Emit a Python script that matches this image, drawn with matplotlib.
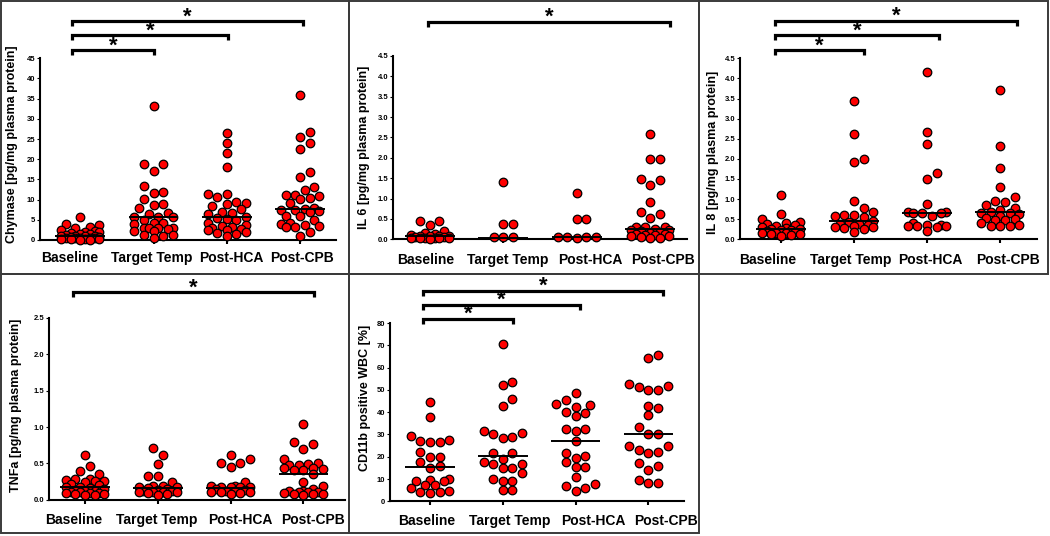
import numpy as np
import matplotlib.pyplot as plt
from matplotlib.patches import Rectangle
from matplotlib.transforms import blended_transform_factory

plt.rcParams['font.family'] = ['Liberation Sans', 'DejaVu Sans']
plt.rcParams['font.weight'] = 'bold'

W, H = 1050, 536

groups = ["Baseline", "Target Temp", "Post-HCA", "Post-CPB"]

# values, one list per time point
chymase = [
    [5.7, 3.9, 3.7, 3.2, 3.0, 2.6, 2.2, 2.0, 1.9, 1.7, 1.5, 1.4, 1.2, 1.1, 1.0,
     1.0, 0.9, 0.8, 0.7, 0.6, 0.6, 0.5, 0.5, 0.4, 0.3, 0.3, 0.2, 0.2, 0.1, 0.1],
    [33.3, 18.8, 18.7, 17.2, 13.4, 11.8, 11.6, 10.1, 8.9, 8.7, 8.0, 6.6, 6.5, 5.8,
     5.7, 5.7, 5.0, 4.3, 4.1, 4.0, 3.0, 3.0, 3.0, 3.0, 2.8, 2.3, 2.2, 1.3, 1.2, 1.1, 0.4],
    [26.4, 23.9, 21.5, 18.1, 11.5, 11.3, 10.6, 9.4, 9.2, 9.0, 8.4, 7.8, 6.9, 6.6,
     6.5, 5.8, 5.5, 5.2, 5.0, 4.3, 3.8, 3.5, 3.2, 3.0, 2.8, 2.5, 2.4, 2.1, 1.8, 1.6, 0.9],
    [36.0, 26.7, 25.4, 24.1, 22.6, 16.8, 15.7, 13.1, 12.4, 11.2, 11.2, 10.9, 10.4,
     10.1, 9.2, 7.9, 7.7, 7.4, 7.4, 7.3, 7.0, 6.0, 6.0, 5.0, 4.3, 4.0, 3.6, 3.5,
     3.3, 3.1, 2.1, 1.1],
]
chymase_medians = [1.0, 5.6, 5.8, 7.7]

il6 = [
    [0.46, 0.44, 0.35, 0.21, 0.15, 0.12, 0.10, 0.09, 0.08, 0.08, 0.07, 0.06, 0.05,
     0.04, 0.04, 0.03, 0.03, 0.02, 0.02, 0.01],
    [1.40, 0.38, 0.38, 0.06, 0.06, 0.06],
    [1.14, 0.49, 0.49, 0.06, 0.06, 0.05, 0.06, 0.02],
    [2.59, 1.96, 1.96, 1.47, 1.45, 1.34, 0.92, 0.66, 0.61, 0.52, 0.30, 0.30, 0.30,
     0.25, 0.22, 0.22, 0.20, 0.18, 0.15, 0.14, 0.12, 0.10, 0.10, 0.08, 0.07, 0.05,
     0.04, 0.02],
]
il6_medians = [0.08, 0.04, 0.05, 0.25]

il8 = [
    [1.10, 0.62, 0.50, 0.42, 0.41, 0.38, 0.36, 0.34, 0.30, 0.27, 0.25, 0.25, 0.23,
     0.23, 0.20, 0.17, 0.15, 0.15, 0.15, 0.13, 0.12, 0.11, 0.07],
    [3.45, 2.62, 1.99, 1.92, 0.96, 0.79, 0.67, 0.60, 0.60, 0.58, 0.56, 0.45, 0.44,
     0.39, 0.39, 0.36, 0.34, 0.30, 0.30, 0.27, 0.25, 0.17],
    [4.15, 2.67, 2.37, 1.64, 1.50, 0.88, 0.69, 0.69, 0.66, 0.66, 0.66, 0.58, 0.41,
     0.36, 0.36, 0.33, 0.33, 0.33, 0.31, 0.20],
    [3.70, 2.33, 1.77, 1.30, 1.06, 0.95, 0.92, 0.86, 0.77, 0.73, 0.68, 0.66, 0.65,
     0.62, 0.58, 0.54, 0.50, 0.48, 0.47, 0.41, 0.36, 0.34, 0.33, 0.33],
]
il8_medians = [0.25, 0.46, 0.65, 0.67]

tnfa = [
    [0.61, 0.47, 0.39, 0.35, 0.29, 0.28, 0.27, 0.26, 0.26, 0.25, 0.22, 0.20, 0.18,
     0.17, 0.16, 0.15, 0.13, 0.12, 0.12, 0.11, 0.10, 0.09, 0.09, 0.09, 0.08, 0.08,
     0.07, 0.07],
    [0.71, 0.61, 0.49, 0.33, 0.32, 0.24, 0.19, 0.19, 0.18, 0.18, 0.16, 0.15, 0.13,
     0.12, 0.12, 0.11, 0.11, 0.10, 0.10, 0.09, 0.08, 0.07],
    [0.61, 0.56, 0.51, 0.50, 0.45, 0.25, 0.19, 0.19, 0.18, 0.18, 0.17, 0.17, 0.15,
     0.14, 0.12, 0.12, 0.11, 0.11, 0.10, 0.09, 0.08],
    [1.04, 0.80, 0.77, 0.70, 0.56, 0.50, 0.49, 0.48, 0.48, 0.44, 0.43, 0.42, 0.41,
     0.41, 0.35, 0.25, 0.19, 0.15, 0.12, 0.12, 0.11, 0.10, 0.10, 0.09, 0.08, 0.08,
     0.08, 0.07],
]
tnfa_medians = [0.18, 0.16, 0.16, 0.36]

cd11b = [
    [44.7, 37.8, 29.4, 27.5, 27.2, 26.5, 26.5, 22.0, 20.0, 19.9, 17.5, 15.7, 15.1,
     10.0, 9.7, 9.3, 9.3, 7.5, 7.3, 5.8, 4.8, 4.3, 4.0, 3.7],
    [70.6, 53.7, 52.2, 46.1, 42.9, 31.7, 30.5, 30.4, 28.7, 28.3, 21.8, 21.7, 19.2,
     17.7, 16.8, 16.8, 14.9, 14.9, 12.5, 10.0, 9.1, 9.1, 4.9, 4.9],
    [48.4, 45.4, 43.6, 43.2, 42.4, 40.2, 39.5, 38.1, 32.4, 32.4, 31.4, 26.9, 21.8,
     20.2, 19.4, 17.5, 15.2, 15.2, 10.8, 7.8, 7.0, 5.8, 4.8],
    [65.8, 64.4, 52.6, 51.9, 51.1, 50.1, 50.1, 42.9, 42.0, 38.6, 33.3, 30.0, 30.0,
     25.0, 25.0, 22.9, 22.0, 21.7, 17.3, 15.7, 14.2, 9.7, 8.4, 8.1],
]
cd11b_medians = [15.5, 20.5, 27.0, 30.2]

# panel layout: axes box in pixels (left, top, right, bottom), x limits,
# where the group names sit, brackets as (x0, x1, height in axes fraction)
panels = [
    dict(data=chymase, med=chymase_medians, ylabel="Chymase [pg/mg plasma protein]",
         ymax=45, ystep=5, fmt="{:.0f}", box=(40, 58.3, 336, 240), xlim=(-0.55, 3.49),
         lab=(-0.093, 0.53), pad=4.6, names=(-0.14, 0.97, 2.06, 3.03),
         brackets=[(-0.11, 1.0, 1.046), (-0.11, 2.02, 1.128), (-0.11, 3.04, 1.205)]),
    dict(data=il6, med=il6_medians, ylabel="IL 6 [pg/mg plasma protein]",
         ymax=4.5, ystep=0.5, fmt="{:.1f}", box=(393, 56, 687, 239.3), xlim=(-0.5, 3.5),
         lab=(-0.10, 0.50), pad=7.0, names=(-0.06, 1.06, 2.18, 3.18),
         brackets=[(-0.03, 3.27, 1.187)]),
    dict(data=il8, med=il8_medians, ylabel="IL 8 [pg/mg plasma protein]",
         ymax=4.5, ystep=0.5, fmt="{:.1f}", box=(740, 58.3, 1036.7, 239.3), xlim=(-0.56, 3.5),
         lab=(-0.09, 0.48), pad=6.8, names=(-0.18, 0.96, 2.05, 3.11),
         brackets=[(-0.08, 1.14, 1.046), (-0.08, 2.16, 1.129), (-0.08, 3.23, 1.208)]),
    dict(data=tnfa, med=tnfa_medians, ylabel="TNFa [pg/mg plasma protein]",
         ymax=2.5, ystep=0.5, fmt="{:.1f}", box=(49, 318, 345, 499.7), xlim=(-0.495, 3.57),
         lab=(-0.11, 0.52), pad=6.8, names=(-0.15, 0.99, 2.13, 3.13),
         brackets=[(-0.17, 3.14, 1.143)]),
    dict(data=cd11b, med=cd11b_medians, ylabel="CD11b positive WBC [%]",
         ymax=80, ystep=10, fmt="{:.0f}", box=(390, 323, 684, 501.3), xlim=(-0.55, 3.49),
         lab=(-0.085, 0.58), pad=6.0, names=(-0.05, 1.10, 2.24, 3.24),
         brackets=[(-0.09, 1.14, 1.024), (-0.09, 2.06, 1.103), (-0.09, 3.2, 1.181)]),
]

frames = [(1, 1, 349, 274), (349, 1, 699, 274), (699, 1, 1048, 274),
          (1, 274, 349, 533), (349, 274, 699, 533)]

DIAM = 9.6  # marker size in pixels


def swarm_x(ax, values, center, diam, max_px):
    """simple beeswarm: offsets in half-diameter steps, bottom up"""
    vals = np.asarray(values, float)
    ypix = ax.transData.transform(np.column_stack([np.full(len(vals), center), vals]))[:, 1]
    xscale = ax.transData.transform((1, 0))[0] - ax.transData.transform((0, 0))[0]
    step = diam / 2
    cands = [0.0]
    k = 1
    while k * step <= max_px:
        cands += [k * step, -k * step]
        k += 1
    px, py = [], []
    offs = np.zeros(len(vals))
    for i in np.argsort(vals, kind="stable"):
        best, best_d = 0.0, -1.0
        for c in cands:
            d = np.min(np.hypot(np.array(px) - c, np.array(py) - ypix[i])) if px else np.inf
            if d >= diam * 0.97:
                best = c
                break
            if d > best_d:
                best_d, best = d, c
        offs[i] = best
        px.append(best)
        py.append(ypix[i])
    return center + offs / xscale


fig = plt.figure(figsize=(W / 100, H / 100), dpi=100)

for x0, y0, x1, y1 in frames:
    fig.add_artist(Rectangle((x0 / W, 1 - y1 / H), (x1 - x0) / W, (y1 - y0) / H,
                             transform=fig.transFigure, fill=False, lw=1.4, ec="#3a3a3a"))

for p in panels:
    l, t, r, b = p["box"]
    ax = fig.add_axes([l / W, 1 - b / H, (r - l) / W, (b - t) / H])
    ax.set_xlim(*p["xlim"])
    ax.set_ylim(0, p["ymax"])
    for s in ("top", "right"):
        ax.spines[s].set_visible(False)
    for s in ("left", "bottom"):
        ax.spines[s].set_linewidth(1.5)

    yt = np.arange(0, p["ymax"] + p["ystep"] / 2, p["ystep"])
    ax.set_yticks(yt)
    ax.set_yticklabels([p["fmt"].format(v) for v in yt], fontsize=5.5, fontweight="bold")
    ax.tick_params(axis="y", length=2.5, width=0.8, pad=0.8)

    # tick marks at the groups, names placed a little apart like the original
    ax.set_xticks(range(len(groups)), minor=True)
    ax.tick_params(axis="x", which="minor", length=3, width=1.5)
    ax.set_xticks(p["names"])
    ax.set_xticklabels(groups, fontsize=10, fontweight="bold")
    ax.tick_params(axis="x", which="major", length=0, pad=p["pad"] + 3)

    ax.set_ylabel(p["ylabel"], fontsize=9, fontweight="bold", va="center")
    ax.yaxis.set_label_coords(*p["lab"])

    for i, vals in enumerate(p["data"]):
        xs = swarm_x(ax, vals, i, DIAM, 22)
        ax.scatter(xs, vals, s=38, c="#ff0000", edgecolors="black", linewidths=0.9,
                   zorder=3, clip_on=False)
        ax.hlines(p["med"][i], i - 0.34, i + 0.34, color="black", lw=1.4, zorder=4)

    tr = blended_transform_factory(ax.transData, ax.transAxes)
    tick_h = 5 / (b - t)
    for bx0, bx1, lev in p["brackets"]:
        ax.plot([bx0, bx0, bx1, bx1], [lev - tick_h, lev, lev, lev - tick_h], color="black",
                lw=2.3, transform=tr, clip_on=False, solid_joinstyle="miter",
                solid_capstyle="butt")
        ax.annotate("*", xy=((bx0 + bx1) / 2, lev), xycoords=tr, xytext=(0, 3),
                    textcoords="offset points", ha="center", va="center",
                    fontsize=16, fontweight="bold", annotation_clip=False)

fig.savefig("out.png", dpi=100, facecolor="white")
